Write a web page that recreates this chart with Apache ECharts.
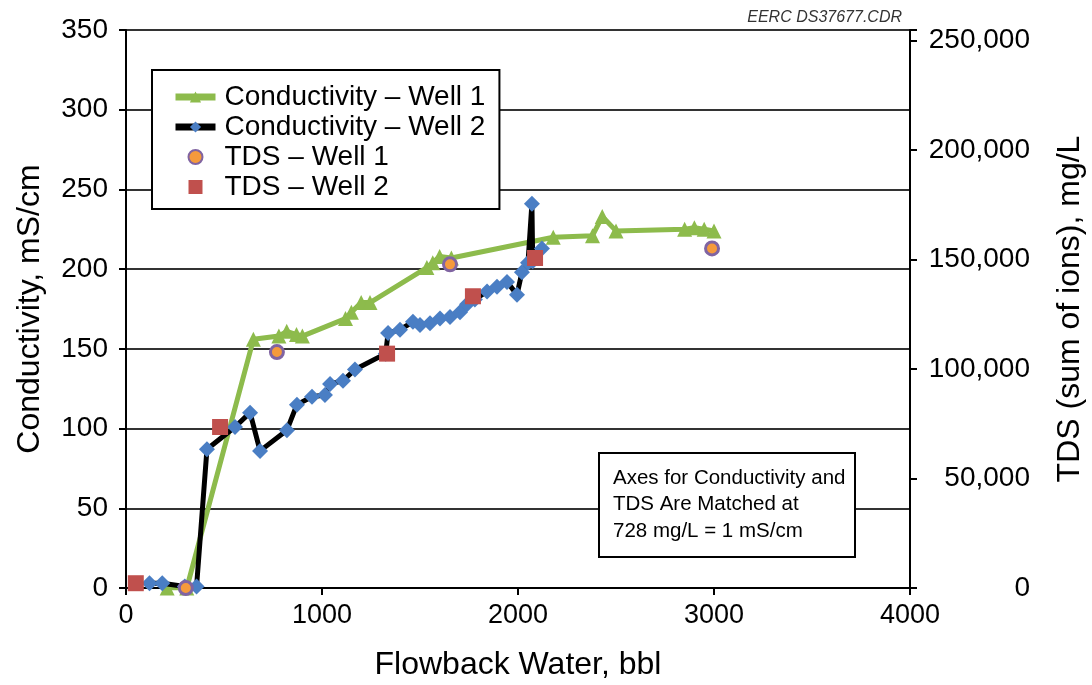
<!DOCTYPE html>
<html><head><meta charset="utf-8">
<script src="https://cdn.jsdelivr.net/npm/echarts@6/dist/echarts.min.js"></script>
<style>html,body{margin:0;padding:0;background:#fff}#c{width:1092px;height:685px}</style>
</head><body><div id="c"></div>
<script>
// Data (x = Flowback water bbl, y = conductivity mS/cm)
const condWell1 = [[210,0],[310,0],[650,156],[780,158],[820,161],[870,159],[900,158],[1120,169],[1150,173],[1200,179],[1245,179],[1535,201],[1565,204],[1600,208],[1660,207],[2180,220],[2380,221],[2430,233],[2500,224],[2850,225],[2900,226],[2950,225],[3000,224]];
const condWell2 = [[120,3],[185,3],[300,1],[360,1],[413,87],[556,101],[633,110],[684,86],[821,99],[872,115],[949,120],[1015,121],[1041,128],[1107,130],[1168,137],[1325,147],[1337,160],[1398,162],[1464,167],[1500,165],[1551,166],[1602,169],[1653,170],[1704,173],[1740,178],[1780,181],[1842,186],[1893,189],[1944,192],[1995,184],[2020,198],[2051,204],[2071,241],[2075,205],[2122,213]];
const tdsWell1 = [[305,0],[770,148],[1653,203],[2990,213]];
const tdsWell2 = [[50,3],[480,101],[1332,147],[1770,183],[2087,207]];
const xTicks = [0,1000,2000,3000,4000];
const leftTicks = [0,50,100,150,200,250,300,350];
const rightTicks = [0,50000,100000,150000,200000,250000];
const mgPerMS = 728;

const FONT = 'Liberation Sans, Arial, sans-serif';
const chart = echarts.init(document.getElementById('c'));
chart.setOption({
  animation:false,
  textStyle:{fontFamily:FONT},
  grid:{left:126, right:182, top:30, bottom:97, outerBoundsMode:'none', containLabel:false},
  legend:{
    orient:'vertical', left:152, top:70,
    backgroundColor:'#fff', borderColor:'#000', borderWidth:2,
    padding:[13,14,8,20], itemGap:2, itemWidth:40, itemHeight:14,
    lineStyle:{width:7},
    textStyle:{fontSize:28, color:'#000', fontFamily:FONT, padding:[0,0,0,4]},
    data:[
      {name:'Conductivity – Well 1'},
      {name:'Conductivity – Well 2'},
      {name:'TDS – Well 1', icon:'circle'},
      {name:'TDS – Well 2', icon:'path://M0 0H10V10H0Z'}
    ]
  },
  xAxis:{
    type:'value', min:xTicks[0], max:xTicks[xTicks.length-1], interval:1000,
    name:'Flowback Water, bbl', nameLocation:'middle', nameGap:61,
    nameTextStyle:{fontSize:32, color:'#000', fontFamily:FONT},
    axisLine:{lineStyle:{color:'#000', width:2}},
    axisTick:{show:true, inside:false, length:7, lineStyle:{color:'#000', width:2}},
    axisLabel:{fontSize:27, color:'#000', margin:14, fontFamily:FONT, formatter:v=>String(v)},
    splitLine:{show:false}
  },
  yAxis:[{
    type:'value', min:leftTicks[0], max:leftTicks[leftTicks.length-1], interval:50,
    name:'Conductivity, mS/cm', nameLocation:'middle', nameGap:80, nameRotate:90,
    nameTextStyle:{fontSize:32, color:'#000', fontFamily:FONT},
    axisLine:{show:true, lineStyle:{color:'#000', width:2}},
    axisTick:{show:true, length:7, lineStyle:{color:'#000', width:2}},
    axisLabel:{fontSize:28, color:'#000', margin:18, fontFamily:FONT},
    splitLine:{show:true, lineStyle:{color:'#333', width:2}}
  },{
    type:'value', min:0, max:leftTicks[leftTicks.length-1]*mgPerMS, interval:50000,
    position:'right',
    name:'TDS (sum of ions), mg/L', nameLocation:'middle', nameGap:144, nameRotate:90,
    nameTextStyle:{fontSize:32, color:'#000', fontFamily:FONT},
    axisLine:{show:true, lineStyle:{color:'#000', width:2}},
    axisTick:{show:true, length:7, lineStyle:{color:'#000', width:2}},
    axisLabel:{fontSize:28, color:'#000', margin:120, align:'right', fontFamily:FONT,
      formatter:v=> rightTicks.includes(v) ? v.toLocaleString('en-US') : ''},
    splitLine:{show:false}
  }],
  series:[
    {name:'Conductivity – Well 1', type:'line', data:condWell1, yAxisIndex:0,
     symbol:'triangle', symbolSize:15, showAllSymbol:true,
     lineStyle:{color:'#8DBB4C', width:5}, itemStyle:{color:'#8DBB4C'}, z:3},
    {name:'Conductivity – Well 2', type:'line', data:condWell2, yAxisIndex:0,
     symbol:'diamond', symbolSize:16, showAllSymbol:true,
     lineStyle:{color:'#000', width:5}, itemStyle:{color:'#4A7EC4'}, z:4},
    {name:'TDS – Well 1', type:'scatter', data:tdsWell1, yAxisIndex:0,
     symbol:'circle', symbolSize:13,
     itemStyle:{color:'#F59A3C', borderColor:'#8064A2', borderWidth:3, opacity:1}, z:5},
    {name:'TDS – Well 2', type:'scatter', data:tdsWell2, yAxisIndex:0,
     symbol:'rect', symbolSize:16,
     itemStyle:{color:'#C0504D', opacity:1}, z:6}
  ],
  graphic:[
    {type:'group', left:598, top:452, z:100, zlevel:1, children:[
      {type:'rect', z:100, shape:{x:0,y:0,width:256,height:104}, style:{fill:'#fff', stroke:'#000', lineWidth:2}},
      {type:'text', z:101, x:14, y:12, style:{text:'Axes for Conductivity and\nTDS Are Matched at\n728 mg/L = 1 mS/cm', font:'20.5px '+FONT, fill:'#000', lineHeight:26.5}}
    ]},
    {type:'text', right:190, top:10, style:{text:'EERC DS37677.CDR', font:'italic 16px '+FONT, fill:'#333'}}
  ]
});
</script></body></html>
